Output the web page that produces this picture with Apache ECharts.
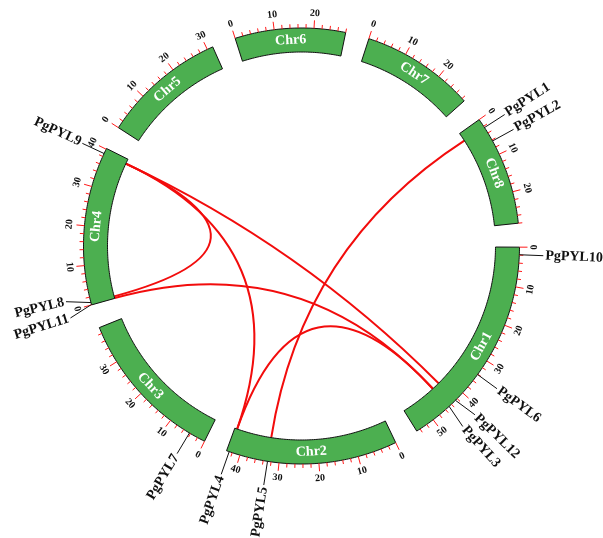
<!DOCTYPE html>
<html>
<head>
<meta charset="utf-8">
<script src="https://cdn.jsdelivr.net/npm/echarts@6/dist/echarts.min.js"></script>
<style>
  html, body { margin: 0; padding: 0; background: #fff; }
  #chart { width: 603px; height: 538px; }
</style>
</head>
<body>
<div id="chart"></div>
<script>
// Chromosomes and their lengths (Mb)
const chromosomes = ['Chr1', 'Chr2', 'Chr3', 'Chr4', 'Chr5', 'Chr6', 'Chr7', 'Chr8'];
const chromLengths = [55, 43.5, 39.6, 40.2, 31.5, 28, 28.8, 28];

// PYL genes: chromosome and position (Mb)
const geneNames = ['PgPYL1', 'PgPYL2', 'PgPYL3', 'PgPYL4', 'PgPYL5', 'PgPYL6',
                   'PgPYL7', 'PgPYL8', 'PgPYL9', 'PgPYL10', 'PgPYL11', 'PgPYL12'];
const geneChroms = ['Chr8', 'Chr8', 'Chr1', 'Chr2', 'Chr2', 'Chr1',
                    'Chr3', 'Chr4', 'Chr4', 'Chr1', 'Chr4', 'Chr1'];
const genePositions = [2.4, 6.3, 44.8, 42.8, 32.9, 34.1, 4.3, 0.6, 38.8, 1.9, 0.1, 42.6];

// Segmental duplication pairs
const linkSources = ['PgPYL9', 'PgPYL9', 'PgPYL9', 'PgPYL11', 'PgPYL4', 'PgPYL1'];
const linkTargets = ['PgPYL12', 'PgPYL8', 'PgPYL4', 'PgPYL3', 'PgPYL3', 'PgPYL5'];

// Scale ticks (Mb)
const minorTickStep = 2;
const labelTickStep = 10;

// ---- layout ----
const GAP = 6;               // gap between chromosomes, in Mb
const R_MAX = 270;           // radius axis extent (px)
const R_IN = 194, R_OUT = 218;
const TICK_MINOR = 4, TICK_MAJOR = 8;
const R_TICK_LABEL = 233;
const R_GENE_LABEL = 244;
const LABEL_SEP_DEG = 4.0;
const SERIF = '"Times New Roman", "Liberation Serif", serif';

const offsets = [];
let acc = 0;
chromLengths.forEach((len, i) => { offsets[i] = acc; acc += len + GAP; });
const TOTAL = acc;

function absPos(chrom, pos) { return offsets[chromosomes.indexOf(chrom)] + pos; }
const geneAbs = geneNames.map((g, i) => absPos(geneChroms[i], genePositions[i]));

// spread gene labels so they do not overlap
function spreadLabels(positions, minSep) {
  const order = positions.map((p, i) => i).sort((a, b) => positions[a] - positions[b]);
  let groups = order.map(i => ({ members: [i], center: positions[i] }));
  let changed = true;
  while (changed) {
    changed = false;
    for (let g = 0; g < groups.length - 1; g++) {
      const A = groups[g], B = groups[g + 1];
      const aEnd = A.center + (A.members.length - 1) * minSep / 2;
      const bStart = B.center - (B.members.length - 1) * minSep / 2;
      if (bStart - aEnd < minSep) {
        const members = A.members.concat(B.members);
        const center = members.reduce((s, m) => s + positions[m], 0) / members.length;
        groups.splice(g, 2, { members, center });
        changed = true;
        break;
      }
    }
  }
  const out = [];
  groups.forEach(G => G.members.forEach((m, j) => {
    out[m] = G.center + (j - (G.members.length - 1) / 2) * minSep;
  }));
  return out;
}
const labelAbs = spreadLabels(geneAbs, LABEL_SEP_DEG * TOTAL / 360);

// tick list
const ticks = [];
chromLengths.forEach((len, i) => {
  for (let p = 0; p <= len + 1e-9; p += minorTickStep) ticks.push([i, p]);
});

function angleOf(pt, c) {
  return Math.atan2(pt[1] - c[1], pt[0] - c[0]) * 180 / Math.PI;
}
function norm(a) { a = a % 360; return a < 0 ? a + 360 : a; }
// rotation for text running along the circle, kept readable
function tangentRotation(theta) {
  let phi = norm(theta + 90);
  if (phi > 90 && phi < 270) phi -= 180;
  return -phi * Math.PI / 180;
}

const chart = echarts.init(document.getElementById('chart'), null, { renderer: 'canvas' });

const option = {
  animation: false,
  backgroundColor: '#fff',
  polar: { center: [301.5, 246], radius: R_MAX },
  angleAxis: {
    type: 'value', min: 0, max: TOTAL, startAngle: -0.3, clockwise: true,
    show: false, axisLine: { show: false }, axisTick: { show: false },
    axisLabel: { show: false }, splitLine: { show: false }
  },
  radiusAxis: {
    type: 'value', min: 0, max: R_MAX,
    show: false, axisLine: { show: false }, axisTick: { show: false },
    axisLabel: { show: false }, splitLine: { show: false }
  },
  series: [
    {
      // duplication links
      type: 'custom', coordinateSystem: 'polar', z: 1,
      data: linkSources.map((s, i) => [i]),
      renderItem: function (params, api) {
        const i = api.value(0);
        const a = geneAbs[geneNames.indexOf(linkSources[i])];
        const b = geneAbs[geneNames.indexOf(linkTargets[i])];
        const p1 = api.coord([R_IN, a]);
        const p2 = api.coord([R_IN, b]);
        const c = api.coord([0, 0]);
        return {
          type: 'bezierCurve',
          shape: { x1: p1[0], y1: p1[1], x2: p2[0], y2: p2[1], cpx1: c[0], cpy1: c[1] },
          style: { stroke: '#f20c0c', lineWidth: 2, fill: null }
        };
      }
    },
    {
      // chromosome bands
      type: 'custom', coordinateSystem: 'polar', z: 2,
      data: chromosomes.map((c, i) => [i]),
      renderItem: function (params, api) {
        const i = api.value(0);
        const start = offsets[i], end = start + chromLengths[i];
        const n = Math.ceil(chromLengths[i] * 2);
        const pts = [];
        for (let k = 0; k <= n; k++) pts.push(api.coord([R_OUT, start + (end - start) * k / n]));
        for (let k = n; k >= 0; k--) pts.push(api.coord([R_IN, start + (end - start) * k / n]));
        const ctr = api.coord([0, 0]);
        const m = api.coord([(R_IN + R_OUT) / 2, (start + end) / 2]);
        return {
          type: 'group',
          children: [
            { type: 'polygon', shape: { points: pts },
              style: { fill: '#4caf50', stroke: '#111', lineWidth: 1 } },
            { type: 'text', x: m[0], y: m[1], rotation: tangentRotation(angleOf(m, ctr)),
              style: { text: chromosomes[i], fill: '#fff', font: 'bold 14px ' + SERIF,
                       align: 'center', verticalAlign: 'middle' } }
          ]
        };
      }
    },
    {
      // scale ticks and labels
      type: 'custom', coordinateSystem: 'polar', z: 3,
      data: ticks,
      renderItem: function (params, api) {
        const i = api.value(0), p = api.value(1);
        const pos = offsets[i] + p;
        const major = Math.abs(p % labelTickStep) < 1e-6;
        const a = api.coord([R_OUT, pos]);
        const b = api.coord([R_OUT + (major ? TICK_MAJOR : TICK_MINOR), pos]);
        const children = [{
          type: 'line', shape: { x1: a[0], y1: a[1], x2: b[0], y2: b[1] },
          style: { stroke: '#ff1a1a', lineWidth: 1 }
        }];
        if (major) {
          const ctr = api.coord([0, 0]);
          const t = api.coord([R_TICK_LABEL, pos]);
          children.push({
            type: 'text', x: t[0], y: t[1], rotation: tangentRotation(angleOf(t, ctr)),
            style: { text: String(Math.round(p)), fill: '#111', font: 'bold 10px ' + SERIF,
                     align: 'center', verticalAlign: 'middle' }
          });
        }
        return { type: 'group', children };
      }
    },
    {
      // gene labels with connectors
      type: 'custom', coordinateSystem: 'polar', z: 4,
      data: geneNames.map((g, i) => [i]),
      renderItem: function (params, api) {
        const i = api.value(0);
        const ctr = api.coord([0, 0]);
        const g = api.coord([R_OUT, geneAbs[i]]);
        const e = api.coord([R_GENE_LABEL - 2, labelAbs[i]]);
        const t = api.coord([R_GENE_LABEL, labelAbs[i]]);
        const th = norm(angleOf(t, ctr));
        const rightSide = th < 90 || th > 270;
        const rot = rightSide ? -th : -(th - 180);
        return {
          type: 'group',
          children: [
            { type: 'line', shape: { x1: g[0], y1: g[1], x2: e[0], y2: e[1] },
              style: { stroke: '#111', lineWidth: 1 } },
            { type: 'text', x: t[0], y: t[1], rotation: rot * Math.PI / 180,
              style: { text: geneNames[i], fill: '#111', font: 'bold 14px ' + SERIF,
                       align: rightSide ? 'left' : 'right', verticalAlign: 'middle' } }
          ]
        };
      }
    }
  ]
};
chart.setOption(option);
</script>
</body>
</html>
